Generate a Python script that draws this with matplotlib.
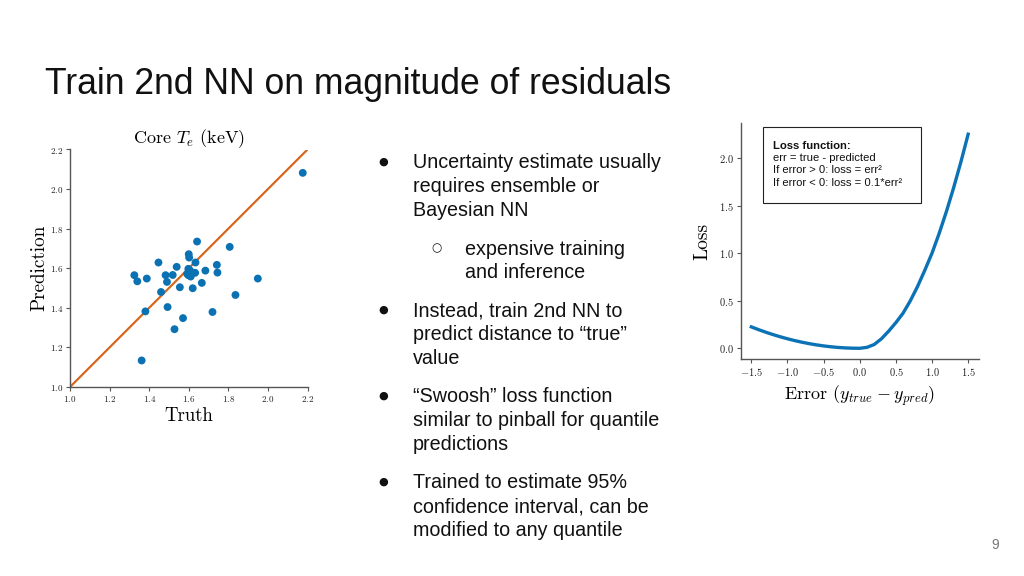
import numpy as np
import matplotlib
matplotlib.use("Agg")
import matplotlib.pyplot as plt
from matplotlib.patches import Rectangle

plt.rcParams['font.family'] = 'serif'
plt.rcParams['font.serif'] = ['cmr10', 'DejaVu Serif']
plt.rcParams['mathtext.fontset'] = 'cm'
plt.rcParams['axes.formatter.use_mathtext'] = True
plt.rcParams['axes.unicode_minus'] = True

# left panel: truth vs prediction (core Te, keV)
truth = [2.176, 1.642, 1.807, 1.600, 1.602, 1.447, 1.634, 1.539, 1.742, 1.325,
         1.340, 1.388, 1.483, 1.490, 1.519, 1.598, 1.610, 1.598, 1.610, 1.632,
         1.684, 1.745, 1.949, 1.666, 1.460, 1.555, 1.620, 1.836, 1.493, 1.381,
         1.720, 1.571, 1.528, 1.362, 1.605, 1.592]
prediction = [2.082, 1.735, 1.708, 1.671, 1.654, 1.629, 1.629, 1.607, 1.617, 1.565,
              1.534, 1.548, 1.565, 1.531, 1.566, 1.597, 1.583, 1.565, 1.558, 1.577,
              1.588, 1.578, 1.548, 1.526, 1.480, 1.504, 1.499, 1.465, 1.404, 1.382,
              1.379, 1.348, 1.292, 1.134, 1.590, 1.572]

# right panel: swoosh loss curve
err = [-1.5, -1.4, -1.3, -1.2, -1.1, -1.0, -0.9, -0.8, -0.7, -0.6, -0.5, -0.4,
       -0.3, -0.2, -0.1, 0.0, 0.1, 0.2, 0.3, 0.4, 0.5, 0.6, 0.7, 0.8, 0.9, 1.0,
       1.1, 1.2, 1.3, 1.4, 1.5]
loss = [0.225, 0.196, 0.169, 0.144, 0.121, 0.100, 0.081, 0.064, 0.049, 0.036,
        0.025, 0.016, 0.009, 0.004, 0.001, 0.0, 0.01, 0.04, 0.10, 0.18, 0.27,
        0.37, 0.50, 0.65, 0.82, 1.0, 1.21, 1.44, 1.69, 1.96, 2.25]

bullets = [
    (0, ["Uncertainty estimate usually", "requires ensemble or", "Bayesian NN"]),
    (1, ["expensive training", "and inference"]),
    (0, ["Instead, train 2nd NN to", "predict distance to \u201ctrue\u201d", "value"]),
    (0, ["\u201cSwoosh\u201d loss function", "similar to pinball for quantile", "predictions"]),
    (0, ["Trained to estimate 95%", "confidence interval, can be", "modified to any quantile"]),
]

W, H = 1024, 576
fig = plt.figure(figsize=(W / 100, H / 100), dpi=100)
fig.patch.set_facecolor('white')

def px(x0, y0, x1, y1):
    return [x0 / W, 1 - y1 / H, (x1 - x0) / W, (y1 - y0) / H]

sans = ['Liberation Sans', 'DejaVu Sans']
spine_col = '#555555'

fig.text(45 / W, 1 - 94 / H, "Train 2nd NN on magnitude of residuals",
         family=sans, fontsize=25.6, color='#111111', va='baseline')

# ---- left scatter ----
ax1 = fig.add_axes(px(70, 149.5, 307.5, 387))
ax1.plot([1.0, 2.2], [1.0, 2.2], color='#d2691e', lw=1.6, zorder=2)
ax1.scatter(truth, prediction, s=32, color='#0a72b2', edgecolor='none', zorder=3)
ax1.set_xlim(1.0, 2.2)
ax1.set_ylim(1.0, 2.2)
ax1.set_xticks([1.0, 1.2, 1.4, 1.6, 1.8, 2.0, 2.2])
ax1.set_yticks([1.0, 1.2, 1.4, 1.6, 1.8, 2.0, 2.2])
for s in ['top', 'right']:
    ax1.spines[s].set_visible(False)
for s in ['left', 'bottom']:
    ax1.spines[s].set_color(spine_col)
    ax1.spines[s].set_linewidth(1.0)
ax1.tick_params(labelsize=6.5, length=3, width=0.8, color=spine_col, pad=2, labelcolor='#222222')
ax1.set_title(r"Core $T_e$ (keV)", fontsize=13, pad=4)
ax1.set_xlabel("Truth", fontsize=13.5, labelpad=2)
ax1.set_ylabel("Prediction", fontsize=13.8, labelpad=1)

# ---- right loss curve ----
ax2 = fig.add_axes(px(740.5, 123.5, 979, 359))
ax2.plot(err, loss, color='#0b72b5', lw=2.4)
ax2.set_xticks([-1.5, -1.0, -0.5, 0.0, 0.5, 1.0, 1.5])
ax2.set_yticks([0.0, 0.5, 1.0, 1.5, 2.0])
for s in ['top', 'right']:
    ax2.spines[s].set_visible(False)
for s in ['left', 'bottom']:
    ax2.spines[s].set_color(spine_col)
    ax2.spines[s].set_linewidth(1.0)
ax2.tick_params(labelsize=7.5, length=3, width=0.8, color=spine_col, pad=2, labelcolor='#222222')
ax2.set_xlabel(r"Error ($y_{true} - y_{pred}$)", fontsize=13, labelpad=4)
ax2.set_ylabel("Loss", fontsize=14, labelpad=5)

# loss function box
fig.add_artist(Rectangle((762.7 / W, 1 - 203.3 / H), (920.7 - 762.7) / W, (203.3 - 127.3) / H,
                         transform=fig.transFigure, facecolor='white', edgecolor='#222222', lw=0.8))
box_lines = ["Loss function:", "err = true - predicted",
             "If error > 0: loss = err\u00b2", "If error < 0: loss = 0.1*err\u00b2"]
for i, t in enumerate(box_lines):
    fig.text(773 / W, 1 - (146 + 12.2 * i) / H, t, family=sans, fontsize=8.1,
             weight='bold' if i == 0 else 'normal', va='center', color='#111111')

# bullet text
y = 163
for k, (lvl, lines) in enumerate(bullets):
    if k > 0:
        y += 14
    bx = 383 if lvl == 0 else 436
    tx = 413 if lvl == 0 else 465
    fig.text(bx / W, 1 - (y - 1) / H, "\u25cf" if lvl == 0 else "\u25cb", family=['DejaVu Sans'],
             fontsize=8 if lvl == 0 else 8.5, ha='center', va='center', color='#111111')
    for line in lines:
        fig.text(tx / W, 1 - y / H, line, family=sans, fontsize=14.2,
                 va='center', color='#111111')
        y += 24

fig.text(995 / W, 1 - 545 / H, "9", family=sans, fontsize=10, ha='center',
         va='center', color='#777777')

fig.savefig("out.png", dpi=100, facecolor='white')
